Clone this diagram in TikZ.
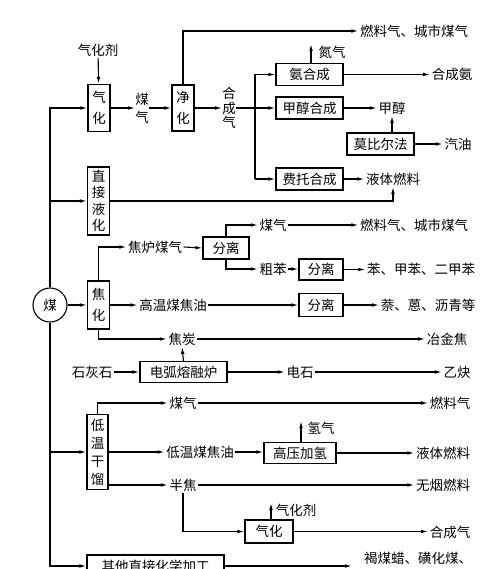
\documentclass[tikz,border=0pt]{standalone}
\usepackage{fontspec}
\newfontfamily\cjk{Noto Sans CJK SC}
\usetikzlibrary{arrows.meta}
\begin{document}
\begin{tikzpicture}[x=1pt,y=-1pt,
  every node/.style={font=\cjk\fontsize{13.5}{16}\selectfont, inner sep=1.5pt},
  ln/.style={line width=1.1pt},
  arr/.style={line width=1.1pt, -{Latex[length=7pt,width=3.6pt]}},
  box/.style={draw, line width=1.1pt, inner sep=0pt, minimum height=22pt},
  vbox/.style={draw, line width=1.1pt, inner sep=0pt, minimum width=22pt, align=center},
  vtxt/.style={align=center, inner sep=0pt}
]
\useasboundingbox (0,0) rectangle (500,569);
\clip (0,0) rectangle (500,569);

% ---------- gasification ----------
\node (qhj) at (98,50) {气化剂};
\node[vbox, minimum height=47pt, font=\cjk\fontsize{13.5}{21}\selectfont] (qh) at (99,108) {气\\化};
\node[vtxt, font=\cjk\fontsize{13.5}{18}\selectfont] (mq1) at (142,108) {煤\\气};
\node[vbox, minimum height=46pt, font=\cjk\fontsize{13.5}{21}\selectfont] (jh) at (183,108) {净\\化};
\node (rq1) at (414,31) {燃料气、城市煤气};
\node[vtxt, font=\cjk\fontsize{13.5}{14.5}\selectfont] (hcq) at (229,108) {合\\成\\气};
\coordinate (bx) at (255,108);
\node[box, minimum width=67pt] (ahc) at (309.5,74.5) {氨合成};
\node[box, minimum width=67pt] (jmhc) at (309.5,108) {甲醇合成};
\node[box, minimum width=67pt] (fthc) at (309.5,179) {费托合成};
\node (nq) at (332,52) {氮气};
\coordinate (nqtip) at (311,44);
\node (hca) at (452,74.5) {合成氨};
\node (jc) at (392,108) {甲醇};
\node[box, minimum width=67pt] (mbe) at (380.5,144) {莫比尔法};
\node (qy) at (458,144) {汽油};
\node (yt1) at (393,179) {液体燃料};

\draw[arr] (qhj) -- (qh);
\draw[arr] (qh.east) -- (mq1.west);
\draw[arr] (mq1.east) -- (jh.west);
\draw[arr] (jh.north) |- (rq1.west);
\draw[arr] (jh.east) -- (hcq.west);
\draw[arr] (hcq.east) -- (jmhc.west);
\draw[ln] (bx |- ahc) -- (bx |- fthc);
\draw[arr] (bx |- ahc) -- (ahc.west);
\draw[arr] (bx |- fthc) -- (fthc.west);
\draw[arr] (ahc.north -| nqtip) -- (nqtip);
\draw[arr] (ahc.east) -- (hca.west);
\draw[arr] (jmhc.east) -- (jc.west);
\draw[arr] (mbe.north -| jc) -- (jc.south);
\draw[arr] (mbe.east) -- (qy.west);
\draw[arr] (fthc.east) -- (yt1.west);

% ---------- direct liquefaction ----------
\node[vbox, minimum height=68pt, font=\cjk\fontsize{13.5}{16.5}\selectfont] (zjyh) at (98.5,201) {直\\接\\液\\化};
\draw[arr] (zjyh.east) -| (yt1.south);

% ---------- coal ----------
\node[draw, circle, line width=1.1pt, fill=white, minimum size=34pt, inner sep=0pt] (mei) at (50,305) {煤};
\node[vbox, minimum height=48pt, font=\cjk\fontsize{13.5}{21}\selectfont] (jiaohua) at (98.5,305) {焦\\化};
\node[vbox, minimum width=21pt, minimum height=75pt, font=\cjk\fontsize{13.5}{18}\selectfont] (dwgl) at (97.5,452) {低\\温\\干\\馏};
\node[box, minimum width=137pt, minimum height=22pt] (qt) at (155.5,566) {其他直接化学加工};

\draw[arr] (mei.north) |- (qh.west);
\draw[arr] (mei.north) |- (zjyh.west);
\draw[arr] (mei.east) -- (jiaohua.west);
\draw[arr] (mei.south) |- (dwgl.west);
\draw[arr] (mei.south) |- (qt.west);

% ---------- coking ----------
\node (jlmq) at (155,247) {焦炉煤气};
\node[box, minimum width=46pt] (fl1) at (226,248) {分离};
\node (mq2) at (273,225) {煤气};
\node (rq2) at (414,225) {燃料气、城市煤气};
\node (cb) at (273,269) {粗苯};
\node[box, minimum width=44pt, minimum height=21pt] (fl2) at (321,269.5) {分离};
\node (bz) at (421,269.5) {苯、甲苯、二甲苯};
\node (gwm) at (173,305) {高温煤焦油};
\node[box, minimum width=44pt, minimum height=23pt] (fl3) at (321,305) {分离};
\node (nao) at (428,305) {萘、蒽、沥青等};
\node (jt) at (182,339) {焦炭};
\node (yjj) at (447,339) {冶金焦};
\node[box, minimum width=87pt, minimum height=21pt] (dh) at (183.5,372) {电弧熔融炉};
\node (shs) at (92,372) {石灰石};
\node (ds) at (300,372) {电石};
\node (yq) at (457,372) {乙炔};

\draw[arr] (jiaohua.north) |- (jlmq.west);
\draw[arr] (jlmq.east) -- (fl1.west);
\draw[arr] (fl1.north) |- (mq2.west);
\draw[arr] (mq2.east) -- (rq2.west);
\draw[arr] (fl1.south) |- (cb.west);
\draw[arr] (cb.east) -- (fl2.west |- cb);
\draw[arr] (fl2.east) -- (bz.west);
\draw[arr] (jiaohua.east) -- (gwm.west);
\draw[arr] (gwm.east) -- (fl3.west);
\draw[arr] (fl3.east) -- (nao.west);
\draw[arr] (jiaohua.south) |- (jt.west);
\draw[arr] (jt.east) -- (yjj.west);
\draw[arr] (shs.east) -- (dh.west);
\draw[arr] (dh.north) -- (jt.south);
\draw[arr] (dh.east) -- (ds.west);
\draw[arr] (ds.east) -- (yq.west);

% ---------- low temperature carbonisation ----------
\node (mq3) at (183,403) {煤气};
\node (rq3) at (450,403) {燃料气};
\node (dwm) at (200,452) {低温煤焦油};
\node[box, minimum width=72pt, minimum height=21pt] (gy) at (300,453) {高压加氢};
\node (qq) at (321,428) {氢气};
\coordinate (qqtip) at (301,421);
\node (yt2) at (443,453) {液体燃料};
\node (bj) at (183,485) {半焦};
\node (wy) at (443,485) {无烟燃料};
\node[box, minimum width=48pt, minimum height=23pt] (qh2) at (269,531.5) {气化};
\node (qhj2) at (296,510) {气化剂};
\coordinate (qhjtip) at (271,503);
\node (hcq2) at (450,532) {合成气};
\node (hm) at (418,558) {褐煤蜡、磺化煤、};
\coordinate (hmtip) at (352,566);

\draw[arr] (dwgl.north) |- (mq3.west);
\draw[arr] (mq3.east) -- (rq3.west);
\draw[arr] (dwgl.east |- dwm) -- (dwm.west);
\draw[arr] (dwm.east) -- (gy.west |- dwm);
\draw[arr] (gy.north -| qqtip) -- (qqtip);
\draw[arr] (gy.east) -- (yt2.west |- gy);
\draw[arr] (dwgl.east |- bj) -- (bj.west);
\draw[arr] (bj.east) -- (wy.west);
\draw[arr] (bj.south) |- (qh2.west);
\draw[arr] (qh2.north -| qhjtip) -- (qhjtip);
\draw[arr] (qh2.east) -- (hcq2.west |- qh2);
\draw[arr] (qt.east) -- (hmtip);
\end{tikzpicture}
\end{document}
